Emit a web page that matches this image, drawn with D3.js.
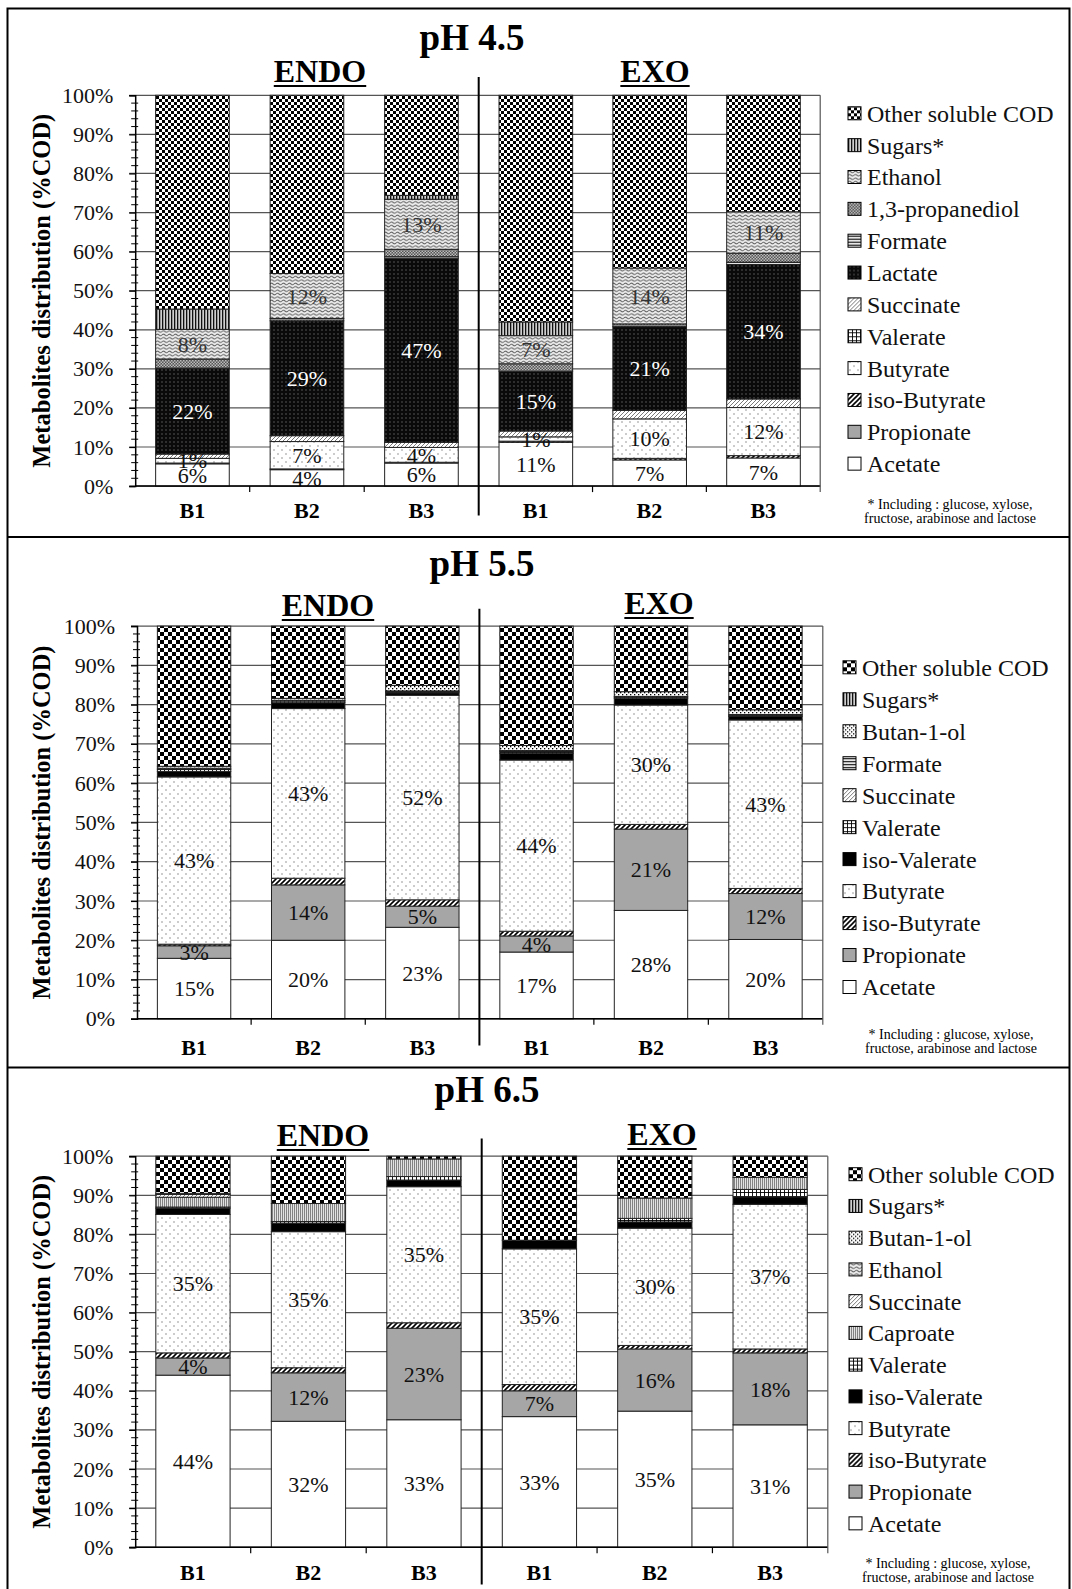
<!DOCTYPE html>
<html>
<head>
<meta charset="utf-8">
<script src="https://cdn.jsdelivr.net/npm/d3@7"></script>
<style>
  body { margin: 0; background: #fff; }
  svg { display: block; font-family: 'Liberation Serif', 'Times New Roman', serif; }
  svg text { font-family: 'Liberation Serif', 'Times New Roman', serif; }
</style>
</head>
<body>
<svg id="chart" width="1072" height="1589"></svg>
<script>
// categories
const groups = ['ENDO', 'EXO'];
const reactors = ['B1', 'B2', 'B3'];
const yTicks = [0, 10, 20, 30, 40, 50, 60, 70, 80, 90, 100];
const footnote = ['* Including : glucose, xylose,', 'fructose, arabinose and lactose'];

// pH 4.5 — each row: ENDO B1, B2, B3, EXO B1, B2, B3 (%COD)
const ph45Series = ['Acetate', 'Propionate', 'iso-Butyrate', 'Butyrate', 'Valerate', 'Succinate',
  'Lactate', 'Formate', '1,3-propanediol', 'Ethanol', 'Sugars*', 'Other soluble COD'];
const ph45Values = [
  [5.7, 4.2, 5.9, 11.2, 6.7, 7.2],
  [0, 0, 0, 0, 0, 0],
  [0.2, 0.2, 0.2, 0.3, 0.4, 0.6],
  [1.2, 7.0, 3.8, 1.1, 10.1, 12.3],
  [0, 0, 0, 0, 0, 0],
  [1.1, 1.5, 1.3, 1.5, 2.2, 2.2],
  [22.0, 29.4, 47.1, 15.3, 21.4, 34.4],
  [0, 0, 0.4, 0, 0, 0.6],
  [2.3, 0.6, 1.9, 1.9, 0.7, 2.3],
  [7.6, 11.5, 12.8, 7.2, 14.3, 10.6],
  [5.2, 0, 1.0, 3.5, 0, 0],
  [54.7, 45.6, 25.6, 58.0, 44.2, 29.8]
];
const ph45Labelled = ['Acetate', 'Butyrate', 'Lactate', 'Ethanol'];

// pH 5.5
const ph55Series = ['Acetate', 'Propionate', 'iso-Butyrate', 'Butyrate', 'iso-Valerate', 'Valerate',
  'Succinate', 'Formate', 'Butan-1-ol', 'Sugars*', 'Other soluble COD'];
const ph55Values = [
  [15.4, 20.0, 23.3, 17.0, 27.6, 20.2],
  [3.2, 14.1, 5.4, 4.1, 20.7, 11.7],
  [0.4, 1.7, 1.6, 1.2, 1.2, 1.3],
  [42.6, 43.2, 52.1, 43.6, 30.4, 42.9],
  [1.4, 1.5, 0.6, 1.7, 1.7, 0.9],
  [0.5, 0.4, 0.3, 0.4, 0.3, 0.3],
  [0, 0, 0, 0, 0, 0],
  [0.3, 0.2, 0.2, 0.3, 0.2, 0.2],
  [0.5, 0.5, 1.4, 1.3, 1.2, 1.2],
  [0, 0, 0, 0, 0, 0],
  [35.7, 18.4, 15.1, 30.4, 16.7, 21.3]
];
const ph55Labelled = ['Acetate', 'Propionate', 'Butyrate'];

// pH 6.5
const ph65Series = ['Acetate', 'Propionate', 'iso-Butyrate', 'Butyrate', 'iso-Valerate', 'Valerate',
  'Caproate', 'Succinate', 'Ethanol', 'Butan-1-ol', 'Sugars*', 'Other soluble COD'];
const ph65Values = [
  [44.0, 32.2, 32.6, 33.4, 34.8, 31.3],
  [4.4, 12.4, 23.4, 6.6, 15.9, 18.4],
  [1.3, 1.3, 1.4, 1.6, 0.9, 1.0],
  [35.4, 34.8, 34.8, 34.7, 30.0, 37.0],
  [1.6, 2.2, 1.7, 2.2, 1.6, 1.9],
  [0.3, 0.4, 0.9, 0, 0.9, 1.9],
  [2.5, 4.6, 4.5, 0, 5.2, 3.1],
  [0.7, 0, 0, 0, 0, 0],
  [0, 0, 0, 0, 0, 0],
  [0.3, 0, 0, 0, 0, 0],
  [0, 0, 0, 0, 0, 0],
  [9.5, 12.1, 0.7, 21.5, 10.7, 5.4]
];
const ph65Labelled = ['Acetate', 'Propionate', 'Butyrate'];

// layout of the three panels
const panels = [
  { title: 'pH 4.5', series: ph45Series, values: ph45Values, labelled: ph45Labelled, checker: 3,
    top: 8.5, titleX: 472, titleY: 37, endoX: 320, endoY: 71, exoX: 655, exoY: 71,
    y100: 95.3, y0: 486.1, axisX: 135.2, divX: 478.7, endX: 820.2, catY: 510.5,
    divTop: 77, divBottom: 515.6, tickX: 113.3, legendX: 848, legendY: 113.3, legendStep: 31.85,
    footX: 950, footY: 503.7 },
  { title: 'pH 5.5', series: ph55Series, values: ph55Values, labelled: ph55Labelled, checker: 4,
    top: 537, titleX: 482, titleY: 563.5, endoX: 328, endoY: 605, exoX: 659, exoY: 603,
    y100: 626.1, y0: 1018.8, axisX: 137, divX: 479.4, endX: 822.8, catY: 1047,
    divTop: 608.7, divBottom: 1045.6, tickX: 115, legendX: 843, legendY: 667.3, legendStep: 31.97,
    footX: 951, footY: 1033.8 },
  { title: 'pH 6.5', series: ph65Series, values: ph65Values, labelled: ph65Labelled, checker: 4,
    top: 1067.6, titleX: 487, titleY: 1089, endoX: 323, endoY: 1135, exoX: 662, exoY: 1134,
    y100: 1156.2, y0: 1547.2, axisX: 135.2, divX: 481.7, endX: 827.8, catY: 1572.7,
    divTop: 1138.4, divBottom: 1584.6, tickX: 113.3, legendX: 849, legendY: 1174.2, legendStep: 31.74,
    footX: 948, footY: 1563 }
];

const patternOf = {
  'Acetate': 'acetate', 'Propionate': 'propionate', 'iso-Butyrate': 'isobutyrate',
  'Butyrate': 'butyrate', 'Valerate': 'valerate', 'iso-Valerate': 'isovalerate',
  'Succinate': 'succinate', 'Lactate': 'lactate', 'Formate': 'formate',
  '1,3-propanediol': 'propanediol', 'Ethanol': 'ethanol', 'Sugars*': 'sugars',
  'Caproate': 'caproate', 'Butan-1-ol': 'butanol', 'Other soluble COD': 'other'
};

const serif = "'Liberation Serif', 'Times New Roman', serif";
const svg = d3.select('#chart');
const defs = svg.append('defs');

function addPattern(id, w, h, bg, draw) {
  const p = defs.append('pattern')
    .attr('id', id)
    .attr('patternUnits', 'userSpaceOnUse')
    .attr('width', w)
    .attr('height', h);
  p.append('rect').attr('width', w).attr('height', h).attr('fill', bg);
  if (draw) draw(p);
}

addPattern('acetate', 4, 4, '#fff');
addPattern('propionate', 4, 4, '#a6a6a6');
addPattern('isovalerate', 4, 4, '#000');
addPattern('isobutyrate', 5, 5, '#fff', p => p.append('path')
  .attr('d', 'M-1,1L1,-1M0,5L5,0M4,6L6,4').attr('stroke', '#000').attr('stroke-width', 1.6));
addPattern('butyrate', 8, 8, '#fff', (p) => {
  p.append('rect').attr('x', 1.5).attr('y', 1.5).attr('width', 1).attr('height', 1).attr('fill', '#333');
  p.append('rect').attr('x', 5.5).attr('y', 5.5).attr('width', 1).attr('height', 1).attr('fill', '#333');
});
addPattern('valerate', 4, 4, '#fff', p => p.append('path')
  .attr('d', 'M0,0.5H4M0.5,0V4').attr('stroke', '#000').attr('stroke-width', 0.9));
addPattern('succinate', 4, 4, '#fff', p => p.append('path')
  .attr('d', 'M-1,1L1,-1M0,4L4,0M3,5L5,3').attr('stroke', '#555').attr('stroke-width', 0.8));
addPattern('lactate', 4, 4, '#0a0a0a', p => p.append('rect')
  .attr('x', 1.5).attr('y', 1.5).attr('width', 1).attr('height', 1).attr('fill', '#999'));
addPattern('formate', 3, 3, '#fff', p => p.append('path')
  .attr('d', 'M0,1.5H3').attr('stroke', '#000').attr('stroke-width', 1.2));
addPattern('propanediol', 3, 3, '#555', (p) => {
  p.append('rect').attr('width', 1.5).attr('height', 1.5).attr('fill', '#bbb');
  p.append('rect').attr('x', 1.5).attr('y', 1.5).attr('width', 1.5).attr('height', 1.5).attr('fill', '#bbb');
});
addPattern('ethanol', 6, 3.4, '#eee', p => p.append('path')
  .attr('d', 'M0,1.7Q1.5,0.2 3,1.7T6,1.7').attr('fill', 'none').attr('stroke', '#666').attr('stroke-width', 1.1));
addPattern('sugars', 3, 3, '#cfcfcf', p => p.append('rect')
  .attr('width', 1.3).attr('height', 3).attr('fill', '#111'));
addPattern('caproate', 2, 2, '#e2e2e2', p => p.append('rect')
  .attr('width', 0.9).attr('height', 2).attr('fill', '#777'));
addPattern('butanol', 4, 4, '#fff', (p) => {
  p.append('rect').attr('width', 1.3).attr('height', 1.3).attr('fill', '#000');
  p.append('rect').attr('x', 2).attr('y', 2).attr('width', 1.3).attr('height', 1.3).attr('fill', '#000');
});
[3, 4].forEach((c) => {
  addPattern(`other-${c}`, 2 * c, 2 * c, '#fff', (p) => {
    p.append('rect').attr('width', c).attr('height', c).attr('fill', '#000');
    p.append('rect').attr('x', c).attr('y', c).attr('width', c).attr('height', c).attr('fill', '#000');
  });
});

const fillOf = (name, panel) => {
  const k = patternOf[name];
  return k === 'other' ? `url(#other-${panel.checker})` : `url(#${k})`;
};

// outer frame and separators
svg.append('path')
  .attr('d', 'M7.5,1589V8.5H1069.5V1589')
  .attr('fill', 'none').attr('stroke', '#000').attr('stroke-width', 2);
panels.slice(1).forEach((p) => {
  svg.append('line').attr('x1', 7.5).attr('x2', 1069.5).attr('y1', p.top).attr('y2', p.top)
    .attr('stroke', '#000').attr('stroke-width', 2);
});

panels.forEach((p) => {
  const g = svg.append('g').attr('font-family', serif);
  const y = d3.scaleLinear().domain([0, 100]).range([p.y0, p.y100]);
  const xs = {
    ENDO: d3.scaleBand().domain(reactors).range([p.axisX, p.divX]).paddingInner(0.357).paddingOuter(0.1785),
    EXO: d3.scaleBand().domain(reactors).range([p.divX, p.endX]).paddingInner(0.357).paddingOuter(0.1785)
  };

  // table for the stack: one row per bar
  const table = [];
  groups.forEach((grp, gi) => reactors.forEach((r, ri) => {
    const row = { group: grp, reactor: r };
    p.series.forEach((s, si) => { row[s] = p.values[si][gi * 3 + ri]; });
    table.push(row);
  }));
  const stacked = d3.stack().keys(p.series)(table);

  // grid
  g.append('g').selectAll('line').data(yTicks).join('line')
    .attr('x1', p.axisX - 6).attr('x2', p.endX)
    .attr('y1', d => y(d)).attr('y2', d => y(d))
    .attr('stroke', '#555').attr('stroke-width', 1.2);

  // bars
  const layers = g.append('g').selectAll('g').data(stacked).join('g')
    .attr('fill', d => fillOf(d.key, p));
  layers.selectAll('rect').data(d => d.filter(v => v[1] - v[0] > 0)).join('rect')
    .attr('x', d => xs[d.data.group](d.data.reactor))
    .attr('width', xs.ENDO.bandwidth())
    .attr('y', d => y(d[1]))
    .attr('height', d => y(d[0]) - y(d[1]))
    .attr('stroke', '#222').attr('stroke-width', 1);

  // value labels
  stacked.filter(l => p.labelled.includes(l.key)).forEach((l) => {
    g.append('g').selectAll('text').data(l).join('text')
      .attr('x', d => xs[d.data.group](d.data.reactor) + xs.ENDO.bandwidth() / 2)
      .attr('y', d => y((d[0] + d[1]) / 2))
      .attr('dy', '0.35em')
      .attr('text-anchor', 'middle')
      .attr('font-family', serif)
      .attr('font-size', 22)
      .attr('fill', l.key === 'Lactate' ? '#fff' : (l.key === 'Ethanol' ? '#333' : '#111'))
      .text(d => `${Math.round(d[1] - d[0])}%`);
  });

  // y axis
  const yAxis = g.append('g').attr('transform', `translate(${p.axisX},0)`)
    .call(d3.axisLeft(y).tickValues(yTicks).tickSize(6).tickPadding(14).tickFormat(d => `${d}%`));
  yAxis.attr('font-family', serif);
  yAxis.select('.domain').attr('stroke', '#000').attr('stroke-width', 1.5);
  yAxis.selectAll('.tick line').attr('stroke', '#000').attr('stroke-width', 1.2);
  yAxis.selectAll('text')
    .attr('font-family', serif).attr('font-size', 22).attr('fill', '#111')
    .attr('x', p.tickX - p.axisX);
  g.append('g').selectAll('line').data(d3.range(0, 101, 2).filter(v => v % 10 !== 0)).join('line')
    .attr('x1', p.axisX - 4).attr('x2', p.axisX + 3)
    .attr('y1', d => y(d)).attr('y2', d => y(d))
    .attr('stroke', '#000').attr('stroke-width', 1);

  // bottom axis, right edge and category ticks
  g.append('line').attr('x1', p.axisX).attr('x2', p.endX).attr('y1', p.y0).attr('y2', p.y0)
    .attr('stroke', '#000').attr('stroke-width', 1.5);
  g.append('line').attr('x1', p.endX).attr('x2', p.endX).attr('y1', p.y100).attr('y2', p.y0 + 6)
    .attr('stroke', '#555').attr('stroke-width', 1.2);
  groups.forEach((grp) => {
    const sc = xs[grp];
    g.append('g').selectAll('line').data(reactors.slice(1)).join('line')
      .attr('x1', r => sc(r) - sc.step() * 0.357 / 2)
      .attr('x2', r => sc(r) - sc.step() * 0.357 / 2)
      .attr('y1', p.y0).attr('y2', p.y0 + 6)
      .attr('stroke', '#000').attr('stroke-width', 1.2);
    g.append('g').selectAll('text').data(reactors).join('text')
      .attr('x', r => sc(r) + sc.bandwidth() / 2)
      .attr('y', p.catY).attr('dy', '0.35em')
      .attr('text-anchor', 'middle').attr('font-weight', 'bold').attr('font-size', 22)
      .attr('font-family', serif)
      .text(r => r);
  });

  // ENDO / EXO divider
  g.append('line').attr('x1', p.divX).attr('x2', p.divX).attr('y1', p.divTop).attr('y2', p.divBottom)
    .attr('stroke', '#000').attr('stroke-width', 2);

  // titles
  g.append('text').attr('x', p.titleX).attr('y', p.titleY).attr('dy', '0.35em')
    .attr('text-anchor', 'middle').attr('font-weight', 'bold').attr('font-size', 37)
    .attr('font-family', serif)
    .text(p.title);
  [['ENDO', p.endoX, p.endoY], ['EXO', p.exoX, p.exoY]].forEach(([t, x, yy]) => {
    const txt = g.append('text').attr('x', x).attr('y', yy).attr('dy', '0.33em')
      .attr('text-anchor', 'middle').attr('font-weight', 'bold').attr('font-size', 32)
      .attr('font-family', serif)
      .text(t);
    const w = txt.node().getComputedTextLength();
    g.append('line').attr('x1', x - w / 2).attr('x2', x + w / 2)
      .attr('y1', yy + 15).attr('y2', yy + 15)
      .attr('stroke', '#000').attr('stroke-width', 2.2);
  });

  g.append('text')
    .attr('transform', `translate(41,${(p.y0 + p.y100) / 2}) rotate(-90)`)
    .attr('dy', '0.35em')
    .attr('text-anchor', 'middle').attr('font-weight', 'bold').attr('font-size', 24.5)
    .attr('font-family', serif)
    .text('Metabolites distribution (%COD)');

  // legend, top to bottom
  const legend = g.append('g').selectAll('g').data(p.series.slice().reverse()).join('g')
    .attr('transform', (d, i) => `translate(${p.legendX},${p.legendY + i * p.legendStep})`);
  legend.append('rect')
    .attr('x', 0).attr('y', -6.5).attr('width', 13).attr('height', 13)
    .attr('fill', d => fillOf(d, p)).attr('stroke', '#000').attr('stroke-width', 1);
  legend.append('text')
    .attr('x', 19).attr('dy', '0.35em').attr('font-size', 24).attr('fill', '#111')
    .attr('font-family', serif)
    .text(d => d);

  g.append('g').selectAll('text').data(footnote).join('text')
    .attr('x', p.footX).attr('y', (d, i) => p.footY + i * 14.5).attr('dy', '0.35em')
    .attr('text-anchor', 'middle').attr('font-size', 14)
    .attr('font-family', serif)
    .text(d => d);
});
</script>
</body>
</html>
